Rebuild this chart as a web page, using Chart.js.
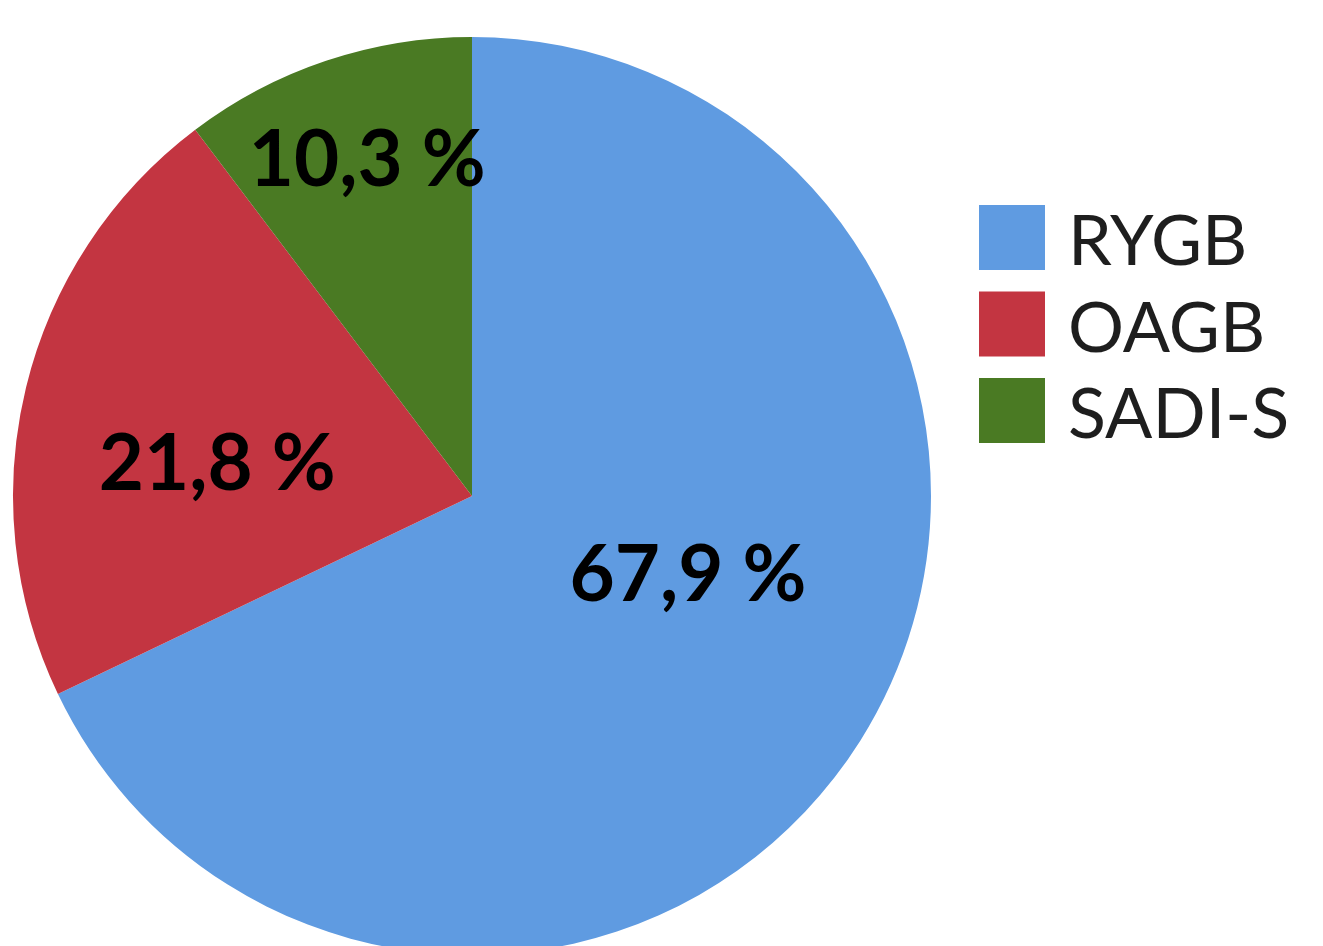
<!DOCTYPE html>
<html>
<head>
<meta charset="utf-8">
<script src="https://cdn.jsdelivr.net/npm/chart.js@4.4.1/dist/chart.umd.min.js"></script>
<style>
  html, body { margin: 0; padding: 0; background: #ffffff; overflow: hidden; }
  #wrap { position: relative; width: 1323px; height: 980px; }
</style>
</head>
<body>
<div id="wrap"><canvas id="chartPie"></canvas></div>
<script>
// --- data ---
const categories = ['RYGB', 'OAGB', 'SADI-S'];
const shares = [67.9, 21.8, 10.3];
const sliceColors = ['#5f9be1', '#c33541', '#4a7a23'];

// where each percentage sits inside its slice (fraction of radius, angle shift in degrees)
const labelSpots = [
    { r: 0.50, da: -12.5 },
    { r: 0.56, da: -6 },
    { r: 0.77, da: 1.3 }
];

function fmtPct(v) {
    return v.toFixed(1).replace('.', ',') + ' %';
}

// percentages drawn on the slices
const sliceLabels = {
    id: 'sliceLabels',
    afterDatasetsDraw(chart) {
        const ctx = chart.ctx;
        const meta = chart.getDatasetMeta(0);
        ctx.save();
        ctx.font = 'bold 78px Lato';
        ctx.fillStyle = '#000000';
        ctx.textAlign = 'center';
        ctx.textBaseline = 'alphabetic';
        meta.data.forEach(function(arc, i) {
            const p = arc.getProps(['x', 'y', 'startAngle', 'endAngle', 'outerRadius'], true);
            const spot = labelSpots[i];
            const a = (p.startAngle + p.endAngle) / 2 + spot.da * Math.PI / 180;
            const x = p.x + Math.cos(a) * p.outerRadius * spot.r;
            const y = p.y + Math.sin(a) * p.outerRadius * spot.r;
            ctx.fillText(fmtPct(chart.data.datasets[0].data[i]), x, y + 28);
        });
        ctx.restore();
    }
};

// legend on the right, square swatches
const sideLegend = {
    id: 'sideLegend',
    afterDraw(chart) {
        const ctx = chart.ctx;
        const ds = chart.data.datasets[0];
        ctx.save();
        ctx.font = '70px Lato';
        ctx.fillStyle = '#1e1e1e';
        ctx.textAlign = 'left';
        ctx.textBaseline = 'alphabetic';
        chart.data.labels.forEach(function(lbl, i) {
            const top = 205 + i * 86.5;
            ctx.fillStyle = ds.backgroundColor[i];
            ctx.fillRect(979, top, 66, 65);
            ctx.fillStyle = '#1e1e1e';
            ctx.fillText(lbl, 1068, top + 60);
        });
        ctx.restore();
    }
};

new Chart(document.getElementById('chartPie'), {
    type: 'pie',
    data: {
        labels: categories,
        datasets: [{
            data: shares,
            backgroundColor: sliceColors,
            borderWidth: 0
        }]
    },
    options: {
        responsive: true,
        maintainAspectRatio: false,
        animation: false,
        layout: { padding: { top: 37, left: 13, right: 392, bottom: 25 } },
        plugins: {
            legend: { display: false },
            tooltip: { enabled: false }
        }
    },
    plugins: [sliceLabels, sideLegend]
});
</script>
</body>
</html>
